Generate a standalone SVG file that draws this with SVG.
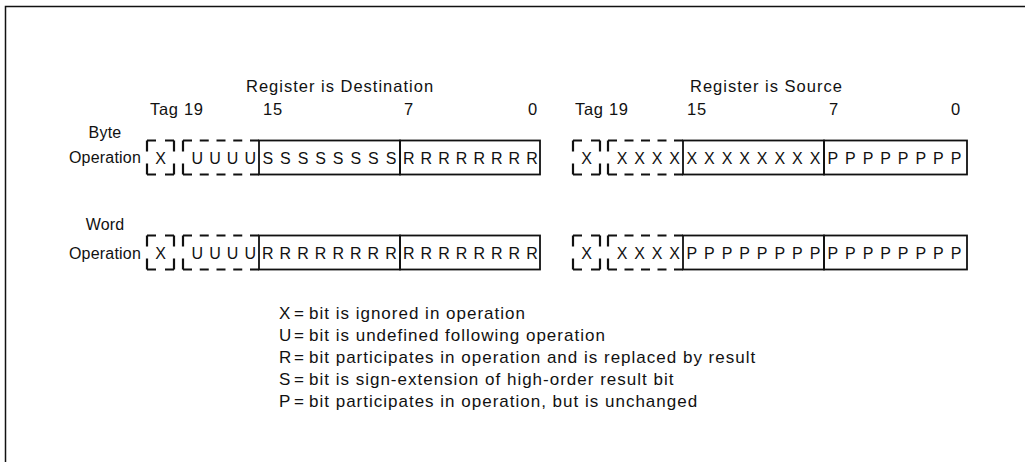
<svg xmlns="http://www.w3.org/2000/svg" width="1025" height="462" viewBox="0 0 1025 462">
<style>
text{font-family:"Liberation Sans",Arial,Helvetica,sans-serif;font-size:16.5px;fill:#111;letter-spacing:1px}
.bit{font-size:16px;text-anchor:middle;letter-spacing:0}
.lbl{font-size:16px;text-anchor:middle;letter-spacing:0.2px}
.hdr{letter-spacing:0.7px}
.solid{fill:none;stroke:#111;stroke-width:1.8}
.dash{fill:none;stroke:#111;stroke-width:2.2}
.leg{font-size:17px;letter-spacing:1px}
</style>
<rect width="1025" height="462" fill="#fff"/>
<path d="M5.5,462 V6.5 H1025" fill="none" stroke="#111" stroke-width="1.5"/>

<g id="titles">
<text x="246" y="92">Register is Destination</text>
<text x="690" y="92">Register is Source</text>
</g>

<g id="headers">
<text class="hdr" x="150" y="115">Tag 19</text>
<text class="hdr" x="263" y="115">15</text>
<text class="hdr" x="404" y="115">7</text>
<text class="hdr" x="528" y="115">0</text>
<text class="hdr" x="575" y="115">Tag 19</text>
<text class="hdr" x="687" y="115">15</text>
<text class="hdr" x="829" y="115">7</text>
<text class="hdr" x="951" y="115">0</text>
</g>

<g id="row-labels">
<text class="lbl" x="105" y="138">Byte</text>
<text class="lbl" x="105" y="163">Operation</text>
<text class="lbl" x="105" y="230">Word</text>
<text class="lbl" x="105" y="259">Operation</text>
</g>

<g id="dest-byte">
<line class="dash" x1="147" y1="140.5" x2="174" y2="140.5" stroke-dasharray="9 9"/>
<line class="dash" x1="147" y1="174.5" x2="174" y2="174.5" stroke-dasharray="9 9"/>
<line class="dash" x1="147" y1="140.5" x2="147" y2="174.5" stroke-dasharray="11 12"/>
<line class="dash" x1="174" y1="140.5" x2="174" y2="174.5" stroke-dasharray="11 12"/>
<text class="bit" x="160.5" y="164">X</text>
<line class="dash" x1="183" y1="140.5" x2="259" y2="140.5" stroke-dasharray="9 7.75"/>
<line class="dash" x1="183" y1="174.5" x2="259" y2="174.5" stroke-dasharray="9 7.75"/>
<line class="dash" x1="183" y1="140.5" x2="183" y2="174.5" stroke-dasharray="11 12"/>
<text class="bit" x="197.4" y="164">U</text><text class="bit" x="215" y="164">U</text><text class="bit" x="232.6" y="164">U</text><text class="bit" x="250.2" y="164">U</text>
<rect class="solid" x="259" y="140.5" width="141" height="34"/>
<rect class="solid" x="400" y="140.5" width="140" height="34"/>
<text class="bit" x="267.8" y="164">S</text><text class="bit" x="285.4" y="164">S</text><text class="bit" x="303" y="164">S</text><text class="bit" x="320.6" y="164">S</text><text class="bit" x="338.2" y="164">S</text><text class="bit" x="355.8" y="164">S</text><text class="bit" x="373.4" y="164">S</text><text class="bit" x="391" y="164">S</text>
<text class="bit" x="408.8" y="164">R</text><text class="bit" x="426.4" y="164">R</text><text class="bit" x="444" y="164">R</text><text class="bit" x="461.6" y="164">R</text><text class="bit" x="479.2" y="164">R</text><text class="bit" x="496.8" y="164">R</text><text class="bit" x="514.4" y="164">R</text><text class="bit" x="532" y="164">R</text>
</g>

<g id="dest-word">
<line class="dash" x1="147" y1="235.5" x2="174" y2="235.5" stroke-dasharray="9 9"/>
<line class="dash" x1="147" y1="269.5" x2="174" y2="269.5" stroke-dasharray="9 9"/>
<line class="dash" x1="147" y1="235.5" x2="147" y2="269.5" stroke-dasharray="11 12"/>
<line class="dash" x1="174" y1="235.5" x2="174" y2="269.5" stroke-dasharray="11 12"/>
<text class="bit" x="160.5" y="259">X</text>
<line class="dash" x1="183" y1="235.5" x2="259" y2="235.5" stroke-dasharray="9 7.75"/>
<line class="dash" x1="183" y1="269.5" x2="259" y2="269.5" stroke-dasharray="9 7.75"/>
<line class="dash" x1="183" y1="235.5" x2="183" y2="269.5" stroke-dasharray="11 12"/>
<text class="bit" x="197.4" y="259">U</text><text class="bit" x="215" y="259">U</text><text class="bit" x="232.6" y="259">U</text><text class="bit" x="250.2" y="259">U</text>
<rect class="solid" x="259" y="235.5" width="141" height="34"/>
<rect class="solid" x="400" y="235.5" width="140" height="34"/>
<text class="bit" x="267.8" y="259">R</text><text class="bit" x="285.4" y="259">R</text><text class="bit" x="303" y="259">R</text><text class="bit" x="320.6" y="259">R</text><text class="bit" x="338.2" y="259">R</text><text class="bit" x="355.8" y="259">R</text><text class="bit" x="373.4" y="259">R</text><text class="bit" x="391" y="259">R</text>
<text class="bit" x="408.8" y="259">R</text><text class="bit" x="426.4" y="259">R</text><text class="bit" x="444" y="259">R</text><text class="bit" x="461.6" y="259">R</text><text class="bit" x="479.2" y="259">R</text><text class="bit" x="496.8" y="259">R</text><text class="bit" x="514.4" y="259">R</text><text class="bit" x="532" y="259">R</text>
</g>

<g id="src-byte">
<line class="dash" x1="573" y1="140.5" x2="600" y2="140.5" stroke-dasharray="9 9"/>
<line class="dash" x1="573" y1="174.5" x2="600" y2="174.5" stroke-dasharray="9 9"/>
<line class="dash" x1="573" y1="140.5" x2="573" y2="174.5" stroke-dasharray="11 12"/>
<line class="dash" x1="600" y1="140.5" x2="600" y2="174.5" stroke-dasharray="11 12"/>
<text class="bit" x="586.5" y="164">X</text>
<line class="dash" x1="608" y1="140.5" x2="683" y2="140.5" stroke-dasharray="9 7.5"/>
<line class="dash" x1="608" y1="174.5" x2="683" y2="174.5" stroke-dasharray="9 7.5"/>
<line class="dash" x1="608" y1="140.5" x2="608" y2="174.5" stroke-dasharray="11 12"/>
<text class="bit" x="622" y="164">X</text><text class="bit" x="639.5" y="164">X</text><text class="bit" x="657" y="164">X</text><text class="bit" x="674.5" y="164">X</text>
<rect class="solid" x="683" y="140.5" width="141" height="34"/>
<rect class="solid" x="824" y="140.5" width="143" height="34"/>
<text class="bit" x="691.8" y="164">X</text><text class="bit" x="709.4" y="164">X</text><text class="bit" x="727" y="164">X</text><text class="bit" x="744.6" y="164">X</text><text class="bit" x="762.2" y="164">X</text><text class="bit" x="779.8" y="164">X</text><text class="bit" x="797.4" y="164">X</text><text class="bit" x="815" y="164">X</text>
<text class="bit" x="832.8" y="164">P</text><text class="bit" x="850.4" y="164">P</text><text class="bit" x="868" y="164">P</text><text class="bit" x="885.6" y="164">P</text><text class="bit" x="903.2" y="164">P</text><text class="bit" x="920.8" y="164">P</text><text class="bit" x="938.4" y="164">P</text><text class="bit" x="956" y="164">P</text>
</g>

<g id="src-word">
<line class="dash" x1="573" y1="235.5" x2="600" y2="235.5" stroke-dasharray="9 9"/>
<line class="dash" x1="573" y1="269.5" x2="600" y2="269.5" stroke-dasharray="9 9"/>
<line class="dash" x1="573" y1="235.5" x2="573" y2="269.5" stroke-dasharray="11 12"/>
<line class="dash" x1="600" y1="235.5" x2="600" y2="269.5" stroke-dasharray="11 12"/>
<text class="bit" x="586.5" y="259">X</text>
<line class="dash" x1="608" y1="235.5" x2="683" y2="235.5" stroke-dasharray="9 7.5"/>
<line class="dash" x1="608" y1="269.5" x2="683" y2="269.5" stroke-dasharray="9 7.5"/>
<line class="dash" x1="608" y1="235.5" x2="608" y2="269.5" stroke-dasharray="11 12"/>
<text class="bit" x="622" y="259">X</text><text class="bit" x="639.5" y="259">X</text><text class="bit" x="657" y="259">X</text><text class="bit" x="674.5" y="259">X</text>
<rect class="solid" x="683" y="235.5" width="141" height="34"/>
<rect class="solid" x="824" y="235.5" width="143" height="34"/>
<text class="bit" x="691.8" y="259">P</text><text class="bit" x="709.4" y="259">P</text><text class="bit" x="727" y="259">P</text><text class="bit" x="744.6" y="259">P</text><text class="bit" x="762.2" y="259">P</text><text class="bit" x="779.8" y="259">P</text><text class="bit" x="797.4" y="259">P</text><text class="bit" x="815" y="259">P</text>
<text class="bit" x="832.8" y="259">P</text><text class="bit" x="850.4" y="259">P</text><text class="bit" x="868" y="259">P</text><text class="bit" x="885.6" y="259">P</text><text class="bit" x="903.2" y="259">P</text><text class="bit" x="920.8" y="259">P</text><text class="bit" x="938.4" y="259">P</text><text class="bit" x="956" y="259">P</text>
</g>

<g id="legend">
<text class="leg" y="319"><tspan x="279">X</tspan><tspan x="294">=</tspan><tspan x="309">bit is ignored in operation</tspan></text>
<text class="leg" y="341"><tspan x="279">U</tspan><tspan x="294">=</tspan><tspan x="309">bit is undefined following operation</tspan></text>
<text class="leg" y="363"><tspan x="279">R</tspan><tspan x="294">=</tspan><tspan x="309">bit participates in operation and is replaced by result</tspan></text>
<text class="leg" y="385"><tspan x="279">S</tspan><tspan x="294">=</tspan><tspan x="309">bit is sign-extension of high-order result bit</tspan></text>
<text class="leg" y="407"><tspan x="279">P</tspan><tspan x="294">=</tspan><tspan x="309">bit participates in operation, but is unchanged</tspan></text>
</g>
</svg>
